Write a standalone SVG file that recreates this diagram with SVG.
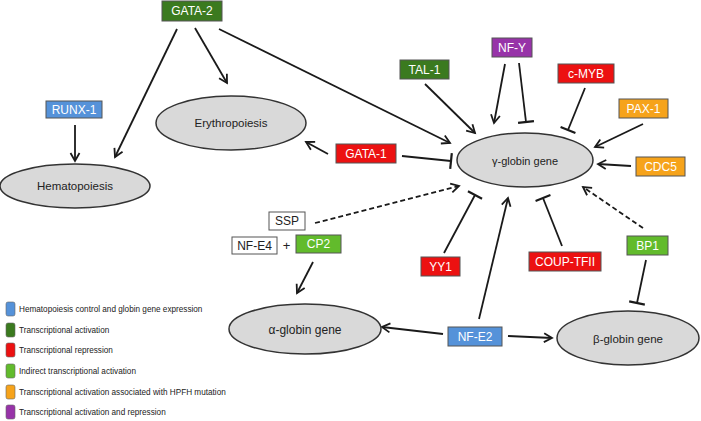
<svg xmlns="http://www.w3.org/2000/svg" width="701" height="421" viewBox="0 0 701 421">
<style>
.box{stroke:#555;stroke-width:1}
.bt{font-family:"Liberation Sans",Arial,sans-serif;font-size:12px;fill:#fff;text-anchor:middle;dominant-baseline:central}
.wt{font-family:"Liberation Sans",Arial,sans-serif;font-size:12px;fill:#222;text-anchor:middle;dominant-baseline:central}
.ell{fill:#d9d9d9;stroke:#333;stroke-width:1.5}
.et{font-family:"Liberation Sans",Arial,sans-serif;font-size:11.5px;fill:#222;text-anchor:middle;dominant-baseline:central}
.lt{font-family:"Liberation Sans",Arial,sans-serif;font-size:8.2px;fill:#222;dominant-baseline:central}
.sw{stroke:#666;stroke-width:0.6}
.c{fill:none;stroke:#1a1a1a;stroke-width:1.8}
.a{marker-end:url(#arr)}
.t{marker-end:url(#bar)}
.d{stroke-dasharray:5,3}
.dg{fill:#3b7a1f}.bl{fill:#5592d9}.rd{fill:#ec1111}.lg{fill:#62bb2c}.or{fill:#f6a31b}.pu{fill:#9733a8}.wh{fill:#fff}
</style>
<defs>
<marker id="arr" markerUnits="userSpaceOnUse" orient="auto" markerWidth="20" markerHeight="20" refX="0" refY="0" style="overflow:visible">
<path d="M-8,-4.5 L0,0 L-8,4.5" fill="none" stroke="#1a1a1a" stroke-width="1.8"/>
</marker>
<marker id="bar" markerUnits="userSpaceOnUse" orient="auto" markerWidth="20" markerHeight="20" refX="0" refY="0" style="overflow:visible">
<path d="M0,-8 L0,8" fill="none" stroke="#1a1a1a" stroke-width="2.2"/>
</marker>
</defs>

<g id="connectors">
<line class="c a" x1="75" y1="125" x2="75" y2="161"/>
<line class="c a" x1="177" y1="29" x2="115" y2="157"/>
<line class="c a" x1="195" y1="28" x2="227" y2="83"/>
<line class="c a" x1="219" y1="29" x2="450" y2="143"/>
<line class="c a" x1="425" y1="84" x2="475" y2="133"/>
<line class="c a" x1="505" y1="64" x2="494" y2="123"/>
<line class="c t" x1="519" y1="63" x2="526" y2="122"/>
<line class="c t" x1="585" y1="88" x2="568" y2="130"/>
<line class="c a" x1="643" y1="124" x2="595" y2="147"/>
<line class="c a" x1="631" y1="166" x2="598" y2="164"/>
<line class="c t" x1="402" y1="156" x2="451" y2="161"/>
<line class="c a" x1="328" y1="154" x2="306" y2="142"/>
<line class="c a d" x1="315" y1="223" x2="459" y2="186"/>
<line class="c t" x1="444" y1="253" x2="475" y2="195"/>
<line class="c a" x1="479" y1="319" x2="508" y2="198"/>
<line class="c t" x1="562" y1="246" x2="543" y2="198"/>
<line class="c a d" x1="643" y1="228" x2="583" y2="187"/>
<line class="c t" x1="646" y1="260" x2="637" y2="303"/>
<line class="c a" x1="313" y1="262" x2="297" y2="293"/>
<line class="c a" x1="443" y1="334" x2="382" y2="327"/>
<line class="c a" x1="508" y1="336" x2="552" y2="338"/>
</g>

<g id="hematopoiesis"><ellipse class="ell" cx="75" cy="186" rx="75" ry="22"/><text class="et" x="75" y="186">Hematopoiesis</text></g>
<g id="erythropoiesis"><ellipse class="ell" cx="231" cy="123" rx="75" ry="27"/><text class="et" x="231" y="123">Erythropoiesis</text></g>
<g id="gamma-globin"><ellipse class="ell" cx="525" cy="160" rx="68" ry="27"/><text class="et" x="525" y="161" style="font-size:11px">γ-globin gene</text></g>
<g id="alpha-globin"><ellipse class="ell" cx="305" cy="329" rx="76" ry="25"/><text class="et" x="305" y="330" style="font-size:12px">α-globin gene</text></g>
<g id="beta-globin"><ellipse class="ell" cx="628" cy="338" rx="71" ry="27"/><text class="et" x="628" y="339">β-globin gene</text></g>

<g id="GATA-2"><rect class="box dg" x="162" y="1" width="60" height="20"/><text class="bt" x="192" y="11">GATA-2</text></g>
<g id="RUNX-1"><rect class="box bl" x="46" y="101" width="56" height="17"/><text class="bt" x="74" y="109.5">RUNX-1</text></g>
<g id="TAL-1"><rect class="box dg" x="400" y="60" width="49" height="19"/><text class="bt" x="424.5" y="69.5">TAL-1</text></g>
<g id="NF-Y"><rect class="box pu" x="492" y="38" width="40" height="19"/><text class="bt" x="512" y="47.5">NF-Y</text></g>
<g id="c-MYB"><rect class="box rd" x="558" y="64" width="56" height="19"/><text class="bt" x="586" y="73.5">c-MYB</text></g>
<g id="PAX-1"><rect class="box or" x="619" y="99" width="49" height="19"/><text class="bt" x="643.5" y="108.5">PAX-1</text></g>
<g id="CDC5"><rect class="box or" x="636" y="157" width="49" height="19"/><text class="bt" x="660.5" y="166.5">CDC5</text></g>
<g id="GATA-1"><rect class="box rd" x="336" y="144" width="60" height="19"/><text class="bt" x="366" y="153.5">GATA-1</text></g>
<g id="SSP"><rect class="box wh" x="269" y="212" width="36" height="18"/><text class="wt" x="287" y="221">SSP</text></g>
<g id="NF-E4"><rect class="box wh" x="232" y="237" width="45" height="17"/><text class="wt" x="254.5" y="245.5">NF-E4</text></g>
<g id="plus"><text class="wt" x="286.5" y="245.5" style="font-size:13px">+</text></g>
<g id="CP2"><rect class="box lg" x="296" y="235" width="45" height="18"/><text class="bt" x="318.5" y="244">CP2</text></g>
<g id="YY1"><rect class="box rd" x="421" y="257" width="39" height="19"/><text class="bt" x="440.5" y="266.5">YY1</text></g>
<g id="COUP-TFII"><rect class="box rd" x="529" y="252" width="72" height="19"/><text class="bt" x="565" y="261.5">COUP-TFII</text></g>
<g id="BP1"><rect class="box lg" x="627" y="236" width="41" height="19"/><text class="bt" x="647.5" y="245.5">BP1</text></g>
<g id="NF-E2"><rect class="box bl" x="448" y="327" width="54" height="19"/><text class="bt" x="475" y="336.5">NF-E2</text></g>

<g id="legend">
<rect class="sw bl" x="6" y="302" width="9" height="14" rx="2"/><text class="lt" x="19" y="309">Hematopoiesis control and globin gene expression</text>
<rect class="sw dg" x="6" y="323" width="9" height="14" rx="2"/><text class="lt" x="19" y="330">Transcriptional activation</text>
<rect class="sw rd" x="6" y="343" width="9" height="14" rx="2"/><text class="lt" x="19" y="350">Transcriptional repression</text>
<rect class="sw lg" x="6" y="364" width="9" height="14" rx="2"/><text class="lt" x="19" y="371">Indirect transcriptional activation</text>
<rect class="sw or" x="6" y="385" width="9" height="14" rx="2"/><text class="lt" x="19" y="392">Transcriptional activation associated with HPFH mutation</text>
<rect class="sw pu" x="6" y="405" width="9" height="14" rx="2"/><text class="lt" x="19" y="412">Transcriptional activation and repression</text>
</g>
</svg>
